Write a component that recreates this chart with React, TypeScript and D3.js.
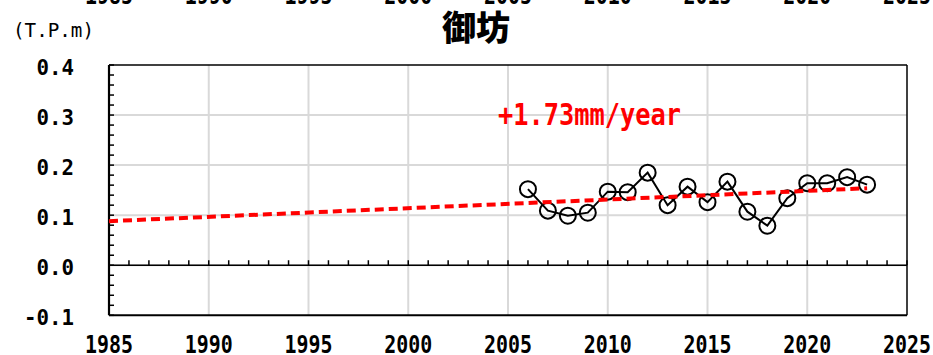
import React from "react";
import * as d3 from "d3";

// Annual mean sea level at 御坊 (T.P. m)
const years = [2006, 2007, 2008, 2009, 2010, 2011, 2012, 2013, 2014, 2015, 2016, 2017, 2018, 2019, 2020, 2021, 2022, 2023];
const levels = [0.152, 0.109, 0.099, 0.105, 0.147, 0.146, 0.185, 0.120, 0.157, 0.126, 0.167, 0.107, 0.079, 0.134, 0.164, 0.164, 0.176, 0.161];

// Linear trend: 1.73 mm/year, from 1985 to the last observed year
const trendYears = [1985, 2023];
const trendStart = 0.088;
const trendRate = 0.00173;
const trendLabel = "+1.73mm/year";

const xTicks = [1985, 1990, 1995, 2000, 2005, 2010, 2015, 2020, 2025];
const yTicks = [0.4, 0.3, 0.2, 0.1, 0.0, -0.1];
const yTickLabels = ["0.4", "0.3", "0.2", "0.1", "0.0", "-0.1"];
const title = "御坊";
const unitLabel = "(T.P.m)";

const W = 933;
const H = 355;
const MONO = "'DejaVu Sans Mono', 'Liberation Mono', monospace";

export default function App() {
  const x = d3.scaleLinear().domain([1985, 2025]).range([109, 907]);
  const y = d3.scaleLinear().domain([-0.1, 0.4]).range([315.3, 65]);

  const minorYears = d3.range(1985, 2026);
  const minorY = d3.range(-0.1, 0.4001, 0.02);

  const dataLine = d3
    .line<number>()
    .x((_, i) => x(years[i]))
    .y((v) => y(v))(levels) as string;

  const trendLine = d3
    .line<number>()
    .x((yr) => x(yr))
    .y((yr) => y(trendStart + trendRate * (yr - 1985)))(trendYears) as string;

  const [x0, x1] = x.range();
  const [yb, yt] = y.range();

  return (
    <svg
      width={W}
      height={H}
      viewBox={`0 0 ${W} ${H}`}
      style={{ position: "absolute", left: 0, top: 0, background: "#fff" }}
    >
      <rect x={0} y={0} width={W} height={H} fill="#fff" />

      {/* clipped year labels of the panel above */}
      {xTicks.map((t) => (
        <text
          key={"top" + t}
          x={x(t)}
          y={4}
          textAnchor="middle"
          fontFamily={MONO}
          fontWeight="bold"
          fontSize={24}
          textLength={48}
          lengthAdjust="spacingAndGlyphs"
          fill="#000"
        >
          {t}
        </text>
      ))}

      {/* grid */}
      {xTicks.slice(1, -1).map((t) => (
        <line key={"gx" + t} x1={x(t)} x2={x(t)} y1={yt} y2={yb} stroke="#d9d9d9" strokeWidth={2} />
      ))}
      {yTicks.slice(1, -1).map((t) => (
        <line key={"gy" + t} x1={x0} x2={x1} y1={y(t)} y2={y(t)} stroke="#d9d9d9" strokeWidth={2} />
      ))}

      {/* frame */}
      <line x1={x0} x2={x1} y1={yt} y2={yt} stroke="#000" strokeWidth={1.5} />
      <line x1={x1} x2={x1} y1={yt} y2={yb} stroke="#000" strokeWidth={1.5} />
      <line x1={x0} x2={x1} y1={yb} y2={yb} stroke="#000" strokeWidth={2} />
      <line x1={x0} x2={x0} y1={yt} y2={yb} stroke="#000" strokeWidth={2.2} />

      {/* zero line with yearly ticks */}
      <line x1={x0} x2={x1} y1={y(0)} y2={y(0)} stroke="#000" strokeWidth={1.6} />
      {minorYears.map((yr) => (
        <line key={"tx" + yr} x1={x(yr)} x2={x(yr)} y1={y(0)} y2={y(0) - 5} stroke="#000" strokeWidth={1.5} />
      ))}

      {/* y minor ticks */}
      {minorY.map((v, i) => (
        <line key={"ty" + i} x1={x0} x2={x0 + 5} y1={y(v)} y2={y(v)} stroke="#000" strokeWidth={1.5} />
      ))}

      {/* y labels */}
      {yTicks.map((t, i) => (
        <text
          key={"yl" + t}
          x={74}
          y={y(t) + 9.5}
          textAnchor="end"
          fontFamily={MONO}
          fontWeight="bold"
          fontSize={22}
          textLength={yTickLabels[i].length * 12.5}
          lengthAdjust="spacingAndGlyphs"
          fill="#000"
        >
          {yTickLabels[i]}
        </text>
      ))}

      {/* x labels */}
      {xTicks.map((t) => (
        <text
          key={"xl" + t}
          x={x(t)}
          y={353}
          textAnchor="middle"
          fontFamily={MONO}
          fontWeight="bold"
          fontSize={25}
          textLength={48}
          lengthAdjust="spacingAndGlyphs"
          fill="#000"
        >
          {t}
        </text>
      ))}

      {/* series */}
      <path d={dataLine} fill="none" stroke="#000" strokeWidth={2} />
      {levels.map((v, i) => (
        <circle key={"c" + i} cx={x(years[i])} cy={y(v)} r={8} fill="none" stroke="#000" strokeWidth={2} />
      ))}

      {/* trend */}
      <path d={trendLine} fill="none" stroke="#ff0000" strokeWidth={4} strokeDasharray="9 5" />
      <text
        x={498}
        y={125}
        fontFamily={MONO}
        fontWeight="bold"
        fontSize={30}
        textLength={183}
        lengthAdjust="spacingAndGlyphs"
        fill="#ff0000"
      >
        {trendLabel}
      </text>

      {/* title & unit */}
      <text
        x={476}
        y={40}
        textAnchor="middle"
        fontFamily="'Noto Sans CJK JP', sans-serif"
        fontWeight={900}
        fontSize={34}
        fill="#000"
      >
        {title}
      </text>
      <text
        x={13}
        y={37}
        fontFamily={MONO}
        fontSize={19}
        textLength={81}
        lengthAdjust="spacingAndGlyphs"
        fill="#000"
      >
        {unitLabel}
      </text>
    </svg>
  );
}
